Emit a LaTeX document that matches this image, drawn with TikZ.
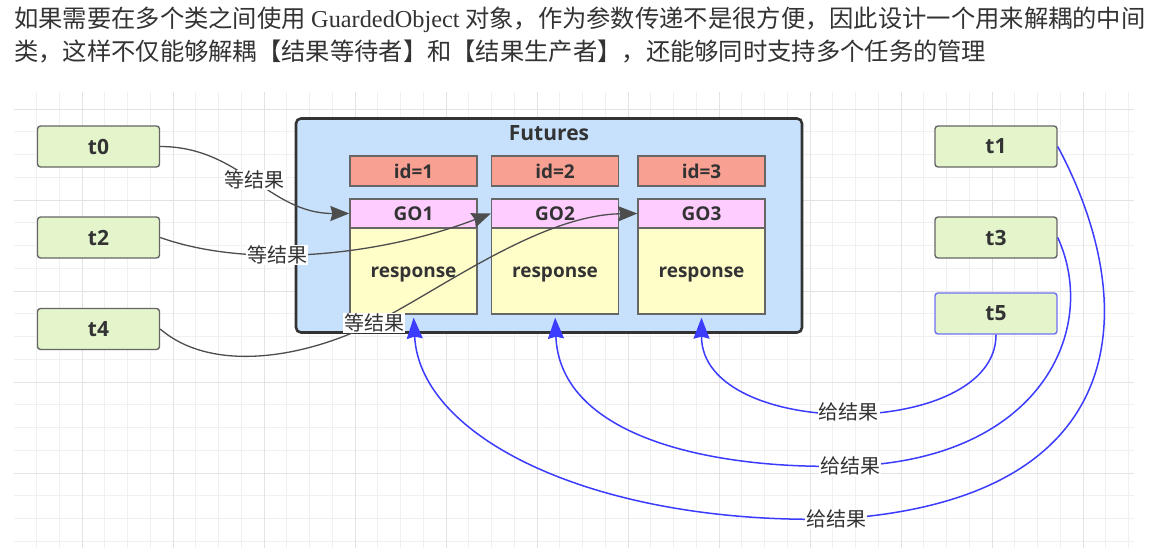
\documentclass[tikz,border=0pt]{standalone}
\usepackage{fontspec}
\setmainfont{Open Sans}
\newfontfamily\cjk{Noto Sans CJK SC}
\newfontfamily\timesen{Liberation Serif}
\usetikzlibrary{arrows.meta}

\definecolor{txtgray}{HTML}{333333}
\definecolor{boxline}{HTML}{666666}
\definecolor{thrfill}{HTML}{E4F5CC}
\definecolor{futfill}{HTML}{C7E1FD}
\definecolor{idfill}{HTML}{F8A193}
\definecolor{gofill}{HTML}{FFCCFF}
\definecolor{respfill}{HTML}{FFFDC8}
\definecolor{waitline}{HTML}{4D4D4D}
\definecolor{giveline}{HTML}{3C3CFF}
\definecolor{gridmin}{HTML}{F0F0F0}
\definecolor{gridmaj}{HTML}{E3E3E3}

\tikzset{
  thread/.style={draw=boxline, fill=thrfill, rounded corners=3pt, line width=1.4pt,
    minimum width=122pt, minimum height=41pt, inner sep=0pt, text=txtgray,
    font=\fontsize{21}{21}\selectfont\bfseries},
  futbox/.style={draw=txtgray, fill=futfill, rounded corners=5pt, line width=2.6pt,
    minimum width=506pt, minimum height=214pt, inner sep=0pt},
  cell/.style={draw=boxline, line width=1.3pt, minimum width=127pt, inner sep=0pt,
    text=txtgray, font=\fontsize{19}{19}\selectfont\bfseries},
  waitarrow/.style={draw=waitline, line width=1.3pt, -{Stealth[length=19pt,width=15pt,inset=2pt]}},
  givearrow/.style={draw=giveline, line width=1.5pt, shorten >=3pt,
    -{Stealth[length=21pt,width=16pt,inset=2pt]}},
  lbl/.style={fill=white, inner sep=1pt, text=txtgray, font=\cjk\fontsize{20}{20}\selectfont},
  toptext/.style={anchor=west, inner sep=0pt, text=txtgray, font=\cjk\fontsize{24.3}{24.3}\selectfont}
}

\begin{document}
\begin{tikzpicture}[x=1pt,y=-1pt]
\useasboundingbox (0,0) rectangle (1158,557);
\fill[white] (0,0) rectangle (1158,557);

\node[toptext] (line1) at (14,20) {如果需要在多个类之间使用 {\timesen GuardedObject} 对象，作为参数传递不是很方便，因此设计一个用来解耦的中间};
\node[toptext] (line2) at (14,52) {类，这样不仅能够解耦【结果等待者】和【结果生产者】，还能够同时支持多个任务的管理};

\foreach \k in {0,...,48}
  \draw[gridmin, line width=0.8pt] (36.5+22.75*\k,92) -- (36.5+22.75*\k,548);
\foreach \k in {0,...,19}
  \draw[gridmin, line width=0.8pt] (14,109+22.75*\k) -- (1134,109+22.75*\k);
\foreach \k in {0,...,11}
  \draw[gridmaj, line width=0.9pt] (82+91*\k,92) -- (82+91*\k,548);
\foreach \k in {0,...,4}
  \draw[gridmaj, line width=0.9pt] (14,109+91*\k) -- (1134,109+91*\k);

\node[thread] (t0) at (98.5,146.5) {t0};
\node[thread] (t2) at (98.5,237.5) {t2};
\node[thread] (t4) at (98.5,329) {t4};
\node[thread] (t1) at (996,146.5) {t1};
\node[thread] (t3) at (996,237.5) {t3};
\node[thread, draw={rgb,255:red,112;green,112;blue,240}] (t5) at (996,313.5) {t5};

\node[futbox] (fut) at (549,225.5) {};
\node[text=txtgray, font=\fontsize{21}{21}\selectfont\bfseries] (futlbl) at (549,133) {Futures};

\foreach \i/\x in {1/413.5,2/555,3/701.5}{
  \node[cell, fill=idfill, minimum height=30pt] (id\i) at (\x,171) {id=\i};
  \node[cell, fill=gofill, minimum height=29pt] (go\i) at (\x,213.5) {GO\i};
  \node[cell, fill=respfill, minimum height=86pt, text height=13pt, text depth=0pt] (resp\i) at (\x,271) {response};
}

\draw[waitarrow] (t0.east) .. controls +(80,0) and +(-80,0) .. (go1.west)
  node[lbl, pos=0.5] {等结果};
\draw[waitarrow] (t2.east) .. controls +(90,32) and +(-110,42) .. (go2.west)
  node[lbl, pos=0.38] {等结果};
\draw[waitarrow] (t4.east) .. controls (210,372) and (300,360) .. (374,323)
  node[lbl] {等结果} .. controls (440,290) and (540,215) .. (go3.west);

\draw[givearrow] (t5.south) .. controls +(0,106) and +(0,126) .. (resp3.south)
  node[lbl, pos=0.5] {给结果};
\draw[givearrow] (t3.east) .. controls (1100,330) and (1040,460) .. (850,466)
  node[lbl] {给结果} .. controls (720,470) and (560,440) .. (resp2.south);
\draw[givearrow] (t1.east) .. controls (1140,300) and (1140,500) .. (836,519)
  node[lbl] {给结果} .. controls (600,525) and (420,440) .. (resp1.south);

\end{tikzpicture}
\end{document}
